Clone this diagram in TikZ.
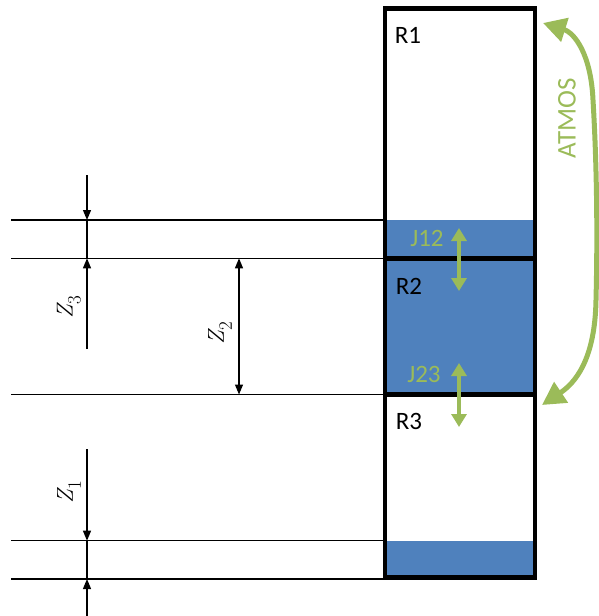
\documentclass[tikz,border=0pt]{standalone}
\usepackage{fontspec}
\newfontfamily\calib{Carlito}
\usetikzlibrary{arrows.meta}
\definecolor{boxblue}{HTML}{4F81BD}
\definecolor{olivegreen}{HTML}{9BBB59}
\begin{document}
\begin{tikzpicture}[x=1pt,y=-1pt,
  guide/.style={black, line width=1.3pt},
  dimline/.style={black, line width=1.2pt},
  dimtip/.style={-{Triangle[length=10pt,width=8pt]}},
  heavy/.style={black, line width=4.5pt},
  lab/.style={font=\calib\fontsize{25}{28}\selectfont, text=black, inner sep=0pt},
  jlab/.style={font=\calib\fontsize{25}{28}\selectfont, text=olivegreen, inner sep=0pt},
  jarrow/.style={olivegreen, line width=4pt, {Triangle[length=13pt,width=15pt]}-{Triangle[length=13pt,width=15pt]}},
  atmos/.style={olivegreen, line width=5pt, {Triangle[length=23pt,width=24pt]}-{Triangle[length=23pt,width=24pt]}},
  zlab/.style={rotate=90, inner sep=0pt}
]
\useasboundingbox (0,0) rectangle (598,616);
\newcommand{\zl}[1]{{\fontsize{23}{24}\selectfont\itshape Z}\raisebox{-8pt}{\fontsize{19}{20}\selectfont #1}}

% coordinates
\coordinate (bl) at (385,8.5);
\coordinate (tr) at (535,577.5);
\foreach \n/\y in {a/220,b/258.3,c/394.5,d/540.7,e/579}{
  \coordinate (L\n) at (11,\y);
  \coordinate (R\n) at (385,\y);
}

% blue fills
\fill[boxblue] (385,220) rectangle (535,394.5);
\fill[boxblue] (385,540.7) rectangle (535,577.5);

% guide lines
\foreach \n in {a,b,c,d,e}{ \draw[guide] (L\n) -- (R\n); }

% column
\draw[heavy] (bl) rectangle (tr);
\draw[heavy] (385,258.3) -- (535,258.3);
\draw[heavy] (385,394.5) -- (535,394.5);

% dimension Z3
\coordinate (z3top) at (87,175);
\coordinate (z3a) at (87,220);
\coordinate (z3b) at (87,258.3);
\coordinate (z3bot) at (87,349);
\draw[dimline,dimtip] (z3top) -- (z3a);
\draw[dimline] (z3a) -- (z3b);
\draw[dimline,dimtip] (z3bot) -- (z3b);
\node[zlab] (Z3) at (69,307) {\zl{3}};

% dimension Z2
\coordinate (z2a) at (239,258.3);
\coordinate (z2b) at (239,394.5);
\draw[dimline,{Triangle[length=10pt,width=8pt]}-{Triangle[length=10pt,width=8pt]}] (z2a) -- (z2b);
\node[zlab] (Z2) at (220,333) {\zl{2}};

% dimension Z1
\coordinate (z1top) at (87,449);
\coordinate (z1a) at (87,540.7);
\coordinate (z1b) at (87,579);
\coordinate (z1bot) at (87,620);
\draw[dimline,dimtip] (z1top) -- (z1a);
\draw[dimline] (z1a) -- (z1b);
\draw[dimline,dimtip] (z1bot) -- (z1b);
\node[zlab] (Z1) at (69,492) {\zl{1}};

% region labels
\node[lab] (R1) at (408,35) {R1};
\node[lab] (R2) at (409,286) {R2};
\node[lab] (R3) at (409,421) {R3};
\node[jlab] (J12) at (427,238) {J12};
\node[jlab] (J23) at (424,374) {J23};

% J arrows
\coordinate (j12t) at (459,228);
\coordinate (j12b) at (459,291);
\coordinate (j23t) at (459,363);
\coordinate (j23b) at (459,427);
\draw[jarrow] (j12t) -- (j12b);
\draw[jarrow] (j23t) -- (j23b);

% ATMOS arrow
\coordinate (atop) at (543,23);
\coordinate (abot) at (542,405);
\draw[atmos] (abot) .. controls (575,383) and (595,360) .. (596,300)
   .. controls (598,220) and (596,150) .. (593,100)
   .. controls (591,55) and (575,33) .. (atop);
\node[rotate=90, font=\calib\fontsize{27}{30}\selectfont, text=olivegreen, inner sep=0pt] (ATMOS) at (567,118) {ATMOS};
\end{tikzpicture}
\end{document}
